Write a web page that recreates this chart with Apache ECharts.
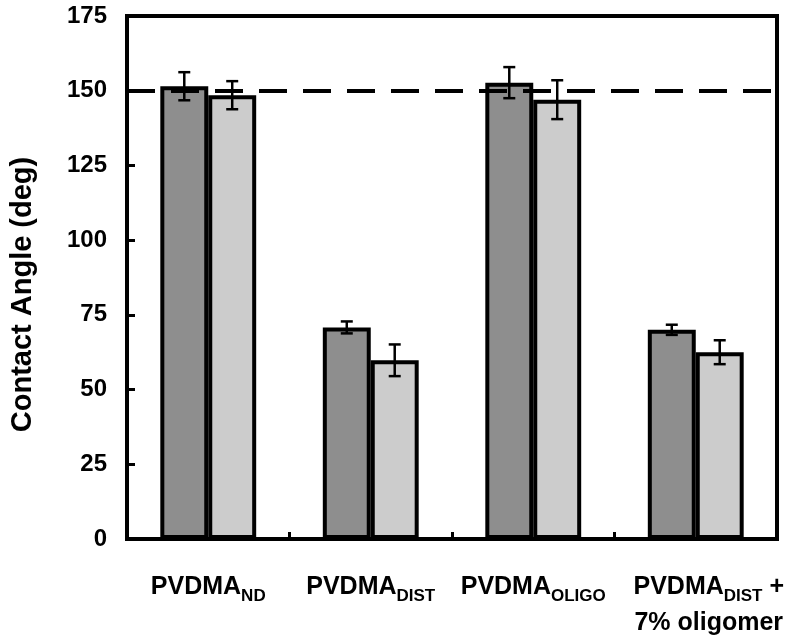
<!DOCTYPE html>
<html><head><meta charset="utf-8">
<script src="https://cdn.jsdelivr.net/npm/echarts@6/dist/echarts.min.js"></script>
<style>html,body{margin:0;padding:0;background:#fff}#c{width:800px;height:641px}</style>
</head><body><div id="c"></div>
<script>
var categories = ['{m|PVDMA}{s|ND}', '{m|PVDMA}{s|DIST}', '{m|PVDMA}{s|OLIGO}', '{m|PVDMA}{s|DIST}{m| +}\n{m|7% oligomer}'];
var darkValues = [151.5, 70.8, 152.7, 70.0];
var darkErrors = [4.7, 2.0, 5.2, 1.7];
var lightValues = [148.5, 59.8, 147.0, 62.5];
var lightErrors = [4.7, 5.3, 6.5, 4.0];
var yTicks = [0, 25, 50, 75, 100, 125, 150, 175];
var referenceLine = 150;

var errData = [];
for (var i = 0; i < categories.length; i++) {
  errData.push([i, darkValues[i], darkErrors[i], 0]);
  errData.push([i, lightValues[i], lightErrors[i], 1]);
}
var catData = categories.map(function (c, i) {
  return i === 3 ? {value: c, textStyle: {padding: [0, 0, 0, 26]}} : c;
});
var gapRatio = 0.41;
var chart = echarts.init(document.getElementById('c'));
var font = 'Liberation Sans, Arial, sans-serif';
chart.setOption({
  animation: false,
  grid: {left: 124, right: 23, top: 16, bottom: 101, show: true, borderColor: '#000', borderWidth: 4, backgroundColor: 'transparent'},
  xAxis: {
    type: 'category', data: catData,
    axisLine: {lineStyle: {color: '#000', width: 4}},
    axisTick: {show: true, inside: true, interval: 0, length: 7, lineStyle: {color: '#000', width: 3}},
    axisLabel: {interval: 0, margin: 30, color: '#000', fontFamily: font, fontWeight: 'bold', fontSize: 25, lineHeight: 36,
      rich: {m: {fontSize: 25, fontWeight: 'bold', fontFamily: font, color: '#000', lineHeight: 36, verticalAlign: 'middle'},
             s: {fontSize: 17, fontWeight: 'bold', fontFamily: font, color: '#000', lineHeight: 36, verticalAlign: 'bottom'}}}
  },
  yAxis: {
    type: 'value', min: 0, max: 175, interval: 25,
    name: 'Contact Angle (deg)', nameLocation: 'middle', nameGap: 90,
    nameTextStyle: {color: '#000', fontFamily: font, fontWeight: 'bold', fontSize: 29, padding: [0, 34, 0, 0]},
    axisLine: {show: true, lineStyle: {color: '#000', width: 4}},
    axisTick: {show: true, inside: true, length: 8, lineStyle: {color: '#000', width: 3}},
    splitLine: {show: false},
    axisLabel: {margin: 20, color: '#000', fontFamily: font, fontWeight: 'bold', fontSize: 24,
      formatter: function (v) { return yTicks.indexOf(v) >= 0 ? String(v) : ''; }}
  },
  series: [
    {type: 'bar', data: darkValues, barGap: '0%', barCategoryGap: (gapRatio * 100) + '%',
     itemStyle: {color: '#8e8e8e', borderColor: '#000', borderWidth: 4},
     markLine: {symbol: 'none', silent: true, label: {show: false},
       lineStyle: {color: '#000', width: 4, type: [28, 16]}, data: [{yAxis: referenceLine}]}},
    {type: 'bar', data: lightValues,
     itemStyle: {color: '#cccccc', borderColor: '#000', borderWidth: 4}},
    {type: 'custom', data: errData, z: 10,
     renderItem: function (params, api) {
       var ci = api.value(0), v = api.value(1), e = api.value(2), s = api.value(3);
       var bandW = api.size([1, 0])[0];
       var bw = bandW * (1 - gapRatio) / 2;
       var c = api.coord([ci, v]);
       var x = c[0] + (s === 0 ? -bw / 2 : bw / 2);
       var top = api.coord([ci, v + e])[1];
       var bot = api.coord([ci, v - e])[1];
       var cap = 6;
       var st = {stroke: '#000', lineWidth: 2.5};
       return {type: 'group', children: [
         {type: 'line', shape: {x1: x, y1: top, x2: x, y2: bot}, style: st},
         {type: 'line', shape: {x1: x - cap, y1: top, x2: x + cap, y2: top}, style: st},
         {type: 'line', shape: {x1: x - cap, y1: bot, x2: x + cap, y2: bot}, style: st}
       ]};
     }}
  ]
});
</script></body></html>
